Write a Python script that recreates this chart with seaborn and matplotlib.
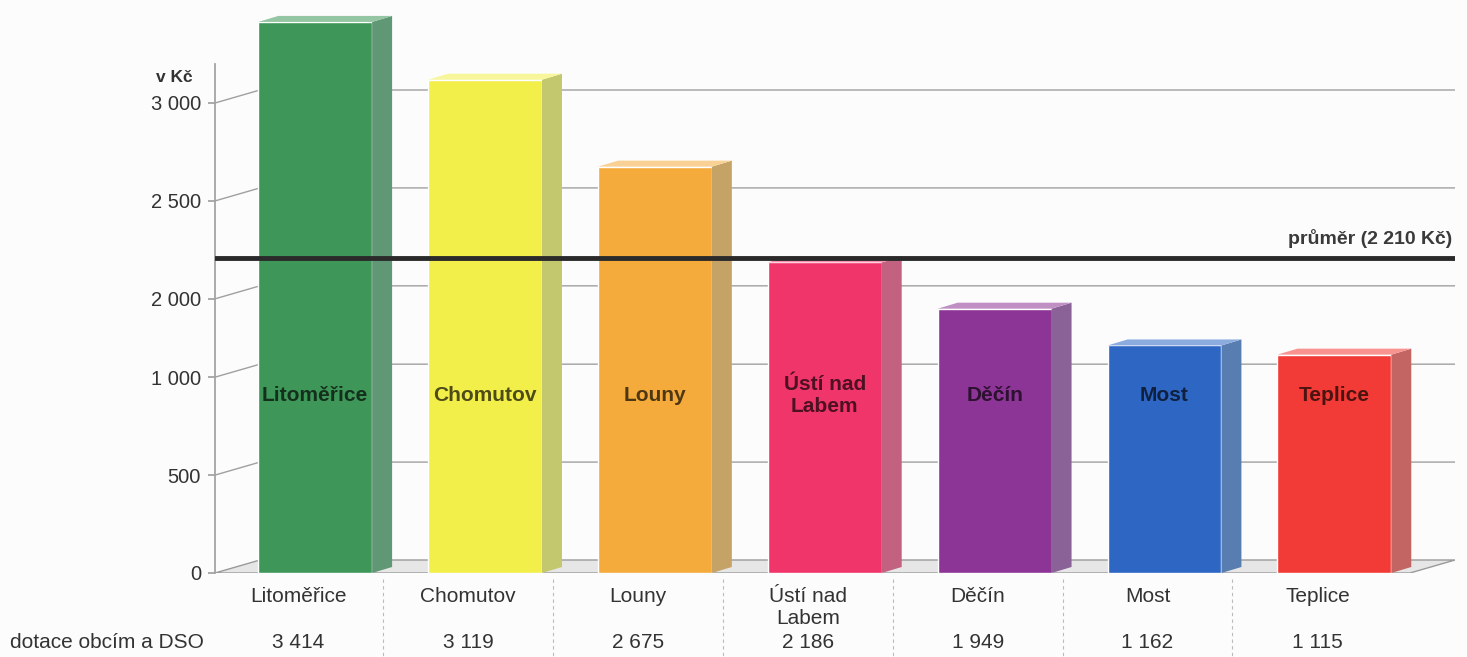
import numpy as np
import matplotlib
matplotlib.use("Agg")
import matplotlib.pyplot as plt
import matplotlib.transforms as mtransforms
from matplotlib.patches import Polygon
from matplotlib.colors import to_rgb
import seaborn as sns

# data
regions = ["Litoměřice", "Chomutov", "Louny", "Ústí nad\nLabem", "Děčín", "Most", "Teplice"]
values = [3414, 3119, 2675, 2186, 1949, 1162, 1115]
value_labels = ["3 414", "3 119", "2 675", "2 186", "1 949", "1 162", "1 115"]
avg_value = 2210
avg_label = "průměr (2 210 Kč)"
y_ticks = [0, 500, 1000, 2000, 2500, 3000]
y_tick_labels = ["0", "500", "1 000", "2 000", "2 500", "3 000"]
row_title = "dotace obcím a DSO"
unit_label = "v Kč"

bar_colors = ["#3e9758", "#f2ee4a", "#f5ab3c", "#f0356b", "#8c3596", "#2e66c4", "#f23b36"]

# broken y axis: the range between ~1170 and ~1950 is squeezed
knot_val = [0, 1170, 1950, 5000]
knot_pos = [0, 1170, 1350, 4400]


def fwd(y):
    return np.interp(np.asarray(y, dtype=float), knot_val, knot_pos)


def inv(t):
    return np.interp(np.asarray(t, dtype=float), knot_pos, knot_val)


def mix(c, other, a):
    c = np.array(to_rgb(c))
    o = np.array(to_rgb(other))
    return tuple(c * (1 - a) + o * a)


sns.set_theme(style="white")
plt.rcParams['font.family'] = ['Liberation Sans', 'DejaVu Sans']

fig = plt.figure(figsize=(14.67, 6.57), dpi=100)
fig.patch.set_facecolor("#fcfcfc")
ax = fig.add_axes([215 / 1467, 84 / 657, 1240 / 1467, 573 / 657])
ax.set_facecolor("none")
ax.set_yscale("function", functions=(fwd, inv))

sns.barplot(x=regions, y=values, hue=regions, palette=bar_colors, width=0.67,
            saturation=1, legend=False, errorbar=None, ax=ax, zorder=3)

xl, xr = -0.59, 6.71
dxs = 45 / 170
px_per_t = 470 / 2400
back_t = 13 / px_per_t
ax.set_xlim(xl, xr)
ax.set_ylim(0, float(inv(573 / px_per_t)))

# floor + grid with 3D slant
vb0 = float(inv(fwd(0) + back_t))
ax.add_patch(Polygon([(xl, 0), (xr - dxs, 0), (xr, vb0), (xl + dxs, vb0)],
                     closed=True, facecolor="#e6e6e6", edgecolor="#9a9a9a", lw=1, zorder=1.5))
for v in y_ticks[1:]:
    vb = float(inv(fwd(v) + back_t))
    ax.plot([xl, xl + dxs, xr], [v, vb, vb], color="#a0a0a0", lw=1, zorder=1)

# bar depth faces
dx = 20 / 170
dt = 6 / px_per_t
for p, col in zip(ax.patches, bar_colors):
    x0, w, h = p.get_x(), p.get_width(), p.get_height()
    hb = float(inv(fwd(h) + dt))
    b0 = float(inv(fwd(0) + dt))
    ax.add_patch(Polygon([(x0 + w, 0), (x0 + w + dx, b0), (x0 + w + dx, hb), (x0 + w, h)],
                         closed=True, facecolor=mix(col, "#8a9a9a", 0.45), edgecolor="none", zorder=3))
    ax.add_patch(Polygon([(x0, h), (x0 + dx, hb), (x0 + w + dx, hb), (x0 + w, h)],
                         closed=True, facecolor=mix(col, "white", 0.45), edgecolor="none", zorder=3))

# labels inside bars
for i, (name, col) in enumerate(zip(regions, bar_colors)):
    ax.text(i, 905, name, ha="center", va="center", fontsize=15, fontweight="bold",
            color=mix(col, "black", 0.68), zorder=5)

# average line
ax.axhline(avg_value, color="#2a2a2a", lw=3.5, zorder=4)
ax.text(0.9976, 2262, avg_label, transform=mtransforms.blended_transform_factory(ax.transAxes, ax.transData),
        ha="right", va="bottom", fontsize=14, fontweight="bold", color="#3a3a3a")

# axes styling
for s in ["top", "right", "bottom"]:
    ax.spines[s].set_visible(False)
ax.spines["left"].set_color("#a0a0a0")
ax.spines["left"].set_bounds(0, 3200)
ax.set_yticks(y_ticks, y_tick_labels)
ax.tick_params(axis="y", length=5, color="#a0a0a0", labelsize=14.5, labelcolor="#333333", pad=5, left=True)
ax.set_xticks(np.arange(len(regions)) - 0.1, regions)
ax.tick_params(axis="x", length=0, labelsize=15, labelcolor="#333333", pad=10)
ax.set_xlabel("")
ax.set_ylabel("")

# data table row
btrans = mtransforms.blended_transform_factory(ax.transData, ax.transAxes)
for i, lab in enumerate(value_labels):
    ax.text(i - 0.1, -0.121, lab, transform=btrans, ha="center", va="center",
            fontsize=15, color="#333333")
for i in range(len(regions) - 1):
    ax.plot([i + 0.4, i + 0.4], [-0.01, -0.16], transform=btrans, ls=(0, (3, 3)),
            color="#bbbbbb", lw=0.8, clip_on=False)
fig.text(10 / 1467, 15 / 657, row_title, ha="left", va="center", fontsize=15, color="#333333")
fig.text(193 / 1467, 1 - 78 / 657, unit_label, ha="right", va="center", fontsize=12.5,
         fontweight="bold", color="#333333")

fig.savefig("out.png", dpi=100, facecolor=fig.get_facecolor())
